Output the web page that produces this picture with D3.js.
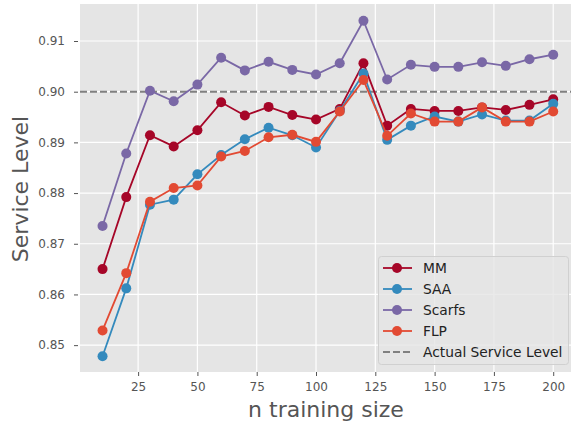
<!DOCTYPE html>
<html>
  <head>
    <style>
      body { margin: 0; background: #fff; }
      text { font-family: "DejaVu Sans", sans-serif; }
    </style>
  </head>
  <body>
    <svg width="571" height="425"></svg>

    <script src="https://d3js.org/d3.v7.min.js"></script>
    <script>

      var sizes = [10, 20, 30, 40, 50, 60, 70, 80, 90, 100, 110, 120, 130, 140, 150, 160, 170, 180, 190, 200];

      var mm = [0.8650, 0.8792, 0.8914, 0.8892, 0.8924, 0.8979, 0.8953, 0.8970, 0.8954, 0.8945,
                0.8966, 0.9056, 0.8933, 0.8966, 0.8962, 0.8962, 0.8969, 0.8964, 0.8974, 0.8985];
      var saa = [0.8478, 0.8612, 0.8777, 0.8787, 0.8837, 0.8875, 0.8906, 0.8929, 0.8914, 0.8890,
                 0.8962, 0.9036, 0.8905, 0.8933, 0.8951, 0.8941, 0.8955, 0.8943, 0.8943, 0.8976];
      var scarfs = [0.8735, 0.8878, 0.9002, 0.8981, 0.9014, 0.9067, 0.9042, 0.9059, 0.9043, 0.9034,
                    0.9056, 0.9140, 0.9024, 0.9053, 0.9049, 0.9049, 0.9058, 0.9051, 0.9064, 0.9073];
      var flp = [0.8529, 0.8642, 0.8783, 0.8810, 0.8815, 0.8872, 0.8883, 0.8910, 0.8915, 0.8901,
                 0.8961, 0.9023, 0.8913, 0.8957, 0.8941, 0.8941, 0.8969, 0.8941, 0.8941, 0.8961];

      var target = 0.90;
      var xTicks = [25, 50, 75, 100, 125, 150, 175, 200];
      var yTicks = [0.85, 0.86, 0.87, 0.88, 0.89, 0.90, 0.91];

      var series = [
        { name: "MM", values: mm, color: "#A60628" },
        { name: "SAA", values: saa, color: "#348ABD" },
        { name: "Scarfs", values: scarfs, color: "#7A68A6" },
        { name: "FLP", values: flp, color: "#E24A33" }
      ];

      var svg = d3.select("svg"),
        margin = { top: 4, right: 0, bottom: 53, left: 80 },
        width = +svg.attr("width"),
        height = +svg.attr("height");

      var x = d3.scaleLinear()
        .domain([0.5, 207.5])
        .range([margin.left, width - margin.right]);

      var y = d3.scaleLinear()
        .domain([0.8447, 0.9173])
        .range([height - margin.bottom, margin.top]);

      // background
      svg.append("rect")
        .attr("x", margin.left)
        .attr("y", margin.top)
        .attr("width", width - margin.left - margin.right)
        .attr("height", height - margin.top - margin.bottom)
        .attr("fill", "#E5E5E5");

      // grid
      svg.append("g")
        .selectAll("line")
        .data(xTicks)
        .enter().append("line")
        .attr("x1", function (d) { return x(d); })
        .attr("x2", function (d) { return x(d); })
        .attr("y1", margin.top)
        .attr("y2", height - margin.bottom)
        .attr("stroke", "#fff")
        .attr("stroke-width", 1.2);

      svg.append("g")
        .selectAll("line")
        .data(yTicks)
        .enter().append("line")
        .attr("x1", margin.left)
        .attr("x2", width - margin.right)
        .attr("y1", function (d) { return y(d); })
        .attr("y2", function (d) { return y(d); })
        .attr("stroke", "#fff")
        .attr("stroke-width", 1.2);

      // axes
      var xAxis = svg.append("g")
        .attr("transform", "translate(0," + (height - margin.bottom) + ")")
        .call(d3.axisBottom(x).tickValues(xTicks).tickSize(4).tickPadding(6));

      var yAxis = svg.append("g")
        .attr("transform", "translate(" + (margin.left - 2) + ",0)")
        .call(d3.axisLeft(y).tickValues(yTicks).tickSize(4).tickPadding(9).tickFormat(d3.format(".2f")));

      [xAxis, yAxis].forEach(function (a) {
        a.select(".domain").remove();
        a.selectAll(".tick line").attr("stroke", "#555");
        a.selectAll(".tick text")
          .attr("fill", "#555")
          .style("font-size", "12px")
          .style("font-family", "DejaVu Sans, sans-serif");
      });

      // target line
      svg.append("line")
        .attr("x1", margin.left)
        .attr("x2", width - margin.right)
        .attr("y1", y(target))
        .attr("y2", y(target))
        .attr("stroke", "#808080")
        .attr("stroke-width", 2)
        .attr("stroke-dasharray", "7,3");

      var line = d3.line()
        .x(function (d, i) { return x(sizes[i]); })
        .y(function (d) { return y(d); });

      var g = svg.append("g")
        .selectAll("g")
        .data(series)
        .enter().append("g");

      g.append("path")
        .attr("d", function (d) { return line(d.values); })
        .attr("fill", "none")
        .attr("stroke", function (d) { return d.color; })
        .attr("stroke-width", 1.8);

      g.selectAll("circle")
        .data(function (d) { return d.values.map(function (v, i) { return { v: v, i: i, color: d.color }; }); })
        .enter().append("circle")
        .attr("cx", function (d) { return x(sizes[d.i]); })
        .attr("cy", function (d) { return y(d.v); })
        .attr("r", 5)
        .attr("fill", function (d) { return d.color; });

      // axis labels
      svg.append("text")
        .attr("x", 326)
        .attr("y", 417)
        .attr("text-anchor", "middle")
        .attr("fill", "#555")
        .style("font-size", "22px")
        .text("n training size");

      svg.append("text")
        .attr("transform", "translate(28,189) rotate(-90)")
        .attr("text-anchor", "middle")
        .attr("fill", "#555")
        .style("font-size", "22px")
        .text("Service Level");

      // legend
      var legend = svg.append("g");
      legend.append("rect")
        .attr("x", 378.5)
        .attr("y", 256.5)
        .attr("width", 190)
        .attr("height", 108)
        .attr("rx", 3)
        .attr("fill", "#E5E5E5")
        .attr("fill-opacity", 0.8)
        .attr("stroke", "#D0D0D0");

      var items = series.map(function (s) { return { name: s.name, color: s.color, dashed: false }; })
        .concat([{ name: "Actual Service Level", color: "#808080", dashed: true }]);

      var li = legend.selectAll("g.item")
        .data(items)
        .enter().append("g")
        .attr("transform", function (d, i) { return "translate(0," + (268 + i * 21) + ")"; });

      li.append("line")
        .attr("x1", 383)
        .attr("x2", 412)
        .attr("stroke", function (d) { return d.color; })
        .attr("stroke-width", function (d) { return d.dashed ? 2 : 1.8; })
        .attr("stroke-dasharray", function (d) { return d.dashed ? "7,3" : null; });

      li.filter(function (d) { return !d.dashed; })
        .append("circle")
        .attr("cx", 397)
        .attr("r", 5)
        .attr("fill", function (d) { return d.color; });

      li.append("text")
        .attr("x", 423)
        .attr("dy", "0.35em")
        .attr("fill", "#222")
        .style("font-size", "13.8px")
        .text(function (d) { return d.name; });

    </script>
  </body>
</html>
